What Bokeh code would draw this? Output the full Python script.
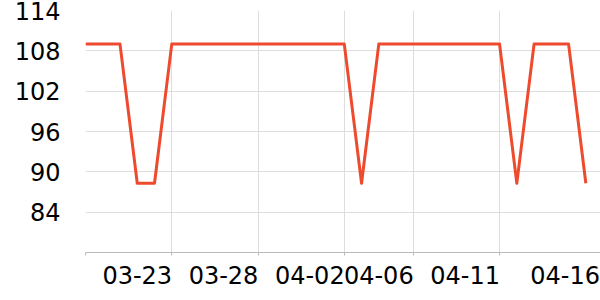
from datetime import datetime
from bokeh.plotting import figure
from bokeh.models import FixedTicker, Range1d
from bokeh.embed import file_html
from bokeh.resources import INLINE

dates = ["2024-03-18", "2024-03-19", "2024-03-20", "2024-03-21", "2024-03-22",
         "2024-03-23", "2024-03-24", "2024-03-25", "2024-03-26", "2024-03-27",
         "2024-03-28", "2024-03-29", "2024-03-30", "2024-03-31", "2024-04-01",
         "2024-04-02", "2024-04-03", "2024-04-04", "2024-04-05", "2024-04-06",
         "2024-04-07", "2024-04-08", "2024-04-09", "2024-04-10", "2024-04-11",
         "2024-04-12", "2024-04-13", "2024-04-14", "2024-04-15", "2024-04-16"]
values = [109, 109, 109, 88.3, 88.3,
          109, 109, 109, 109, 109,
          109, 109, 109, 109, 109,
          109, 88.3, 109, 109, 109,
          109, 109, 109, 109, 109,
          88.3, 109, 109, 109, 88.3]
grid_dates = ["2024-03-18", "2024-03-23", "2024-03-28", "2024-04-02", "2024-04-06", "2024-04-11"]
tick_labels = ["03-23", "03-28", "04-02", "04-06", "04-11", "04-16"]
y_ticks = [84, 90, 96, 102, 108, 114]

DAY = 86400000.0
def ms(s):
    return (datetime.strptime(s, "%Y-%m-%d") - datetime(1970, 1, 1)).total_seconds() * 1000.0

xs = [datetime.strptime(d, "%Y-%m-%d") for d in dates]
x0 = ms(dates[0])
x_end = x0 + 29.85 * DAY

grid_ms = [ms(d) for d in grid_dates]
# label text sits just left of its tick (right-aligned), last one fitted into frame
label_ms = []
for lab in tick_labels:
    d = ms("2024-" + lab)
    c = d - 2.0 * DAY
    if d > x_end - 1.0 * DAY:
        c = x_end - 2.05 * DAY
    label_ms.append(c)

p = figure(width=600, height=300, x_axis_type="datetime", output_backend="svg",
           toolbar_location=None, x_range=Range1d(x0, x_end), y_range=Range1d(78, 114),
           min_border_left=85, min_border_right=0, min_border_top=10, min_border_bottom=48)
p.outline_line_color = None
p.background_fill_color = "white"
p.border_fill_color = "white"

p.line(xs, values, line_color="#EE4A2E", line_width=3, line_join="round")

xa = p.xaxis[0]
xa.ticker = FixedTicker(ticks=label_ms, minor_ticks=grid_ms)
xa.major_label_overrides = {v: t for v, t in zip(label_ms, tick_labels)}
xa.major_tick_line_color = None
xa.minor_tick_line_color = "#bbbbbb"
xa.minor_tick_in = 0
xa.minor_tick_out = 3
xa.axis_line_color = "#bbbbbb"
xa.axis_line_width = 1
xa.major_label_text_font = "DejaVu Sans"
xa.major_label_text_font_size = "24px"
xa.major_label_text_color = "black"
xa.major_label_standoff = 7

ya = p.yaxis[0]
ya.ticker = FixedTicker(ticks=y_ticks)
ya.axis_line_color = None
ya.major_tick_line_color = None
ya.minor_tick_line_color = None
ya.major_label_text_font = "DejaVu Sans"
ya.major_label_text_font_size = "24px"
ya.major_label_text_color = "black"
ya.major_label_standoff = 19

p.xgrid.ticker = FixedTicker(ticks=grid_ms)
p.xgrid.grid_line_color = "#dddddd"
p.ygrid.grid_line_color = "#dddddd"

open("out.html", "w").write(file_html(p, INLINE))
